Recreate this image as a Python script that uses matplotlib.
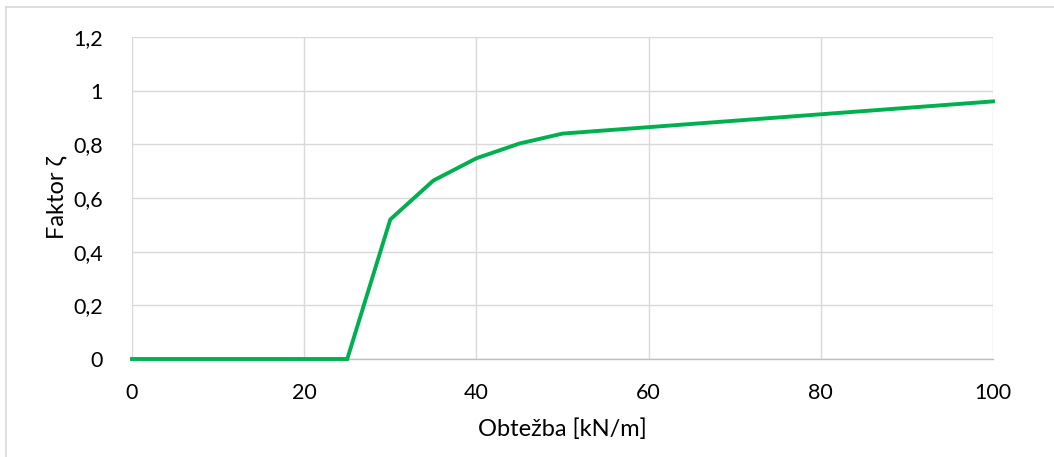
import matplotlib
matplotlib.use("Agg")
import matplotlib.pyplot as plt
from matplotlib.lines import Line2D
from matplotlib.ticker import FuncFormatter

obtezba = [0, 25, 30, 35, 40, 45, 50, 100]
faktor = [0, 0, 0.52, 0.665, 0.748, 0.803, 0.84, 0.96]
x_ticks = [0, 20, 40, 60, 80, 100]
y_ticks = [0, 0.2, 0.4, 0.6, 0.8, 1.0, 1.2]

plt.rcParams['font.family'] = ['Lato', 'DejaVu Sans']

W, H = 1054, 457
fig = plt.figure(figsize=(W / 100, H / 100), dpi=100)
ax = fig.add_axes([132 / W, (H - 359) / H, (993 - 132) / W, (359 - 37) / H])

ax.plot(obtezba, faktor, color='#00b050', lw=2.8, solid_joinstyle='miter', zorder=3, clip_on=False)
ax.set_xlim(0, 100)
ax.set_ylim(0, 1.2)
ax.set_xticks(x_ticks)
ax.set_yticks(y_ticks)

def fmt(v, pos):
    return ('%g' % round(v, 2)).replace('.', ',')

ax.xaxis.set_major_formatter(FuncFormatter(fmt))
ax.yaxis.set_major_formatter(FuncFormatter(fmt))

ax.grid(True, color='#d9d9d9', lw=1.0, zorder=0)
for s in ['top', 'right', 'left']:
    ax.spines[s].set_visible(False)
ax.spines['bottom'].set_color('#bfbfbf')
ax.spines['bottom'].set_linewidth(1.0)
ax.tick_params(length=0, labelsize=15.5, colors='#000000')
ax.tick_params(axis='x', pad=17)
ax.tick_params(axis='y', pad=21)

ax.set_xlabel('Obtežba [kN/m]', fontsize=17, labelpad=11)
ax.set_ylabel('Faktor ζ', fontsize=17, va='center')
ax.yaxis.set_label_coords((57 - 132) / (993 - 132), 0.5)

# outer chart border
fig.add_artist(Line2D([5.5 / W, 5.5 / W], [0, (H - 7) / H], transform=fig.transFigure, color='#d9d9d9', lw=1.2))
fig.add_artist(Line2D([5.5 / W, 1.0], [(H - 7) / H, (H - 7) / H], transform=fig.transFigure, color='#d9d9d9', lw=1.2))

fig.savefig('out.png', dpi=100, facecolor='white')
